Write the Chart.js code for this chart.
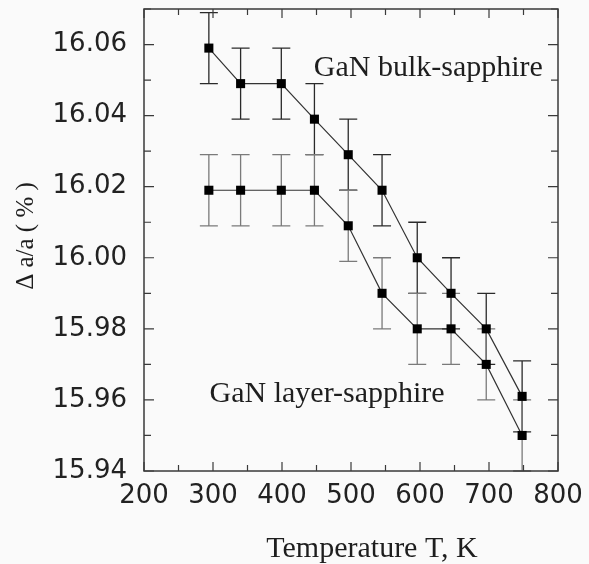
<!DOCTYPE html>
<html>
<head>
<meta charset="utf-8">
<script src="https://cdn.jsdelivr.net/npm/chart.js@4"></script>
<style>
html, body { margin: 0; padding: 0; background: #fafafa; }
</style>
</head>
<body>
<canvas id="chart" width="589" height="564"></canvas>
<script>
// data
const temps = [294, 340, 399, 447, 496, 545, 596, 645, 696, 748];
const bulk = [16.059, 16.049, 16.049, 16.039, 16.029, 16.019, 16.000, 15.990, 15.980, 15.961];
const bulkErr = [0.01, 0.01, 0.01, 0.01, 0.01, 0.01, 0.01, 0.01, 0.01, 0.01];
const layer = [16.019, 16.019, 16.019, 16.019, 16.009, 15.990, 15.980, 15.980, 15.970, 15.950];
const layerErr = [0.01, 0.01, 0.01, 0.01, 0.01, 0.01, 0.01, 0.01, 0.01, 0.01];

const xTicks = [200, 300, 400, 500, 600, 700, 800];
const yTicks = [15.94, 15.96, 15.98, 16.00, 16.02, 16.04, 16.06];

const ctx = document.querySelector('#chart').getContext('2d');

const toPoints = (ys) => temps.map((t, i) => ({ x: t, y: ys[i] }));

// error bars, frame and inward ticks
const extras = {
    id: 'extras',
    beforeDraw(chart) {
        const c = chart.ctx;
        c.save();
        c.fillStyle = '#fafafa';
        c.fillRect(0, 0, chart.width, chart.height);
        c.restore();
    },
    beforeDatasetsDraw(chart) {
        const c = chart.ctx;
        const xs = chart.scales.x, ys = chart.scales.y;
        const sets = [[bulk, bulkErr, '#2a2a2a'], [layer, layerErr, '#7a7a7a']];
        c.save();
        c.lineWidth = 1.3;
        sets.forEach(([vals, errs, col]) => {
            c.strokeStyle = col;
            vals.forEach((v, i) => {
                const px = xs.getPixelForValue(temps[i]);
                const top = ys.getPixelForValue(v + errs[i]);
                const bot = ys.getPixelForValue(v - errs[i]);
                c.beginPath();
                c.moveTo(px, top); c.lineTo(px, bot);
                c.moveTo(px - 9, top); c.lineTo(px + 9, top);
                c.moveTo(px - 9, bot); c.lineTo(px + 9, bot);
                c.stroke();
            });
        });
        c.restore();
    },
    afterDraw(chart) {
        const c = chart.ctx;
        const a = chart.chartArea;
        const xs = chart.scales.x, ys = chart.scales.y;
        c.save();
        c.strokeStyle = '#3a3a3a';
        c.lineWidth = 1.5;
        c.strokeRect(a.left, a.top, a.right - a.left, a.bottom - a.top);
        c.lineWidth = 1.2;
        c.beginPath();
        for (let v = 200; v <= 800; v += 50) {
            const px = xs.getPixelForValue(v);
            const len = v % 100 === 0 ? 9 : 6;
            c.moveTo(px, a.bottom); c.lineTo(px, a.bottom - len);
            c.moveTo(px, a.top); c.lineTo(px, a.top + len);
        }
        for (let k = 0; k <= 13; k++) {
            const v = 15.94 + k * 0.01;
            const py = ys.getPixelForValue(v);
            const len = k % 2 === 0 ? 10 : 7;
            c.moveTo(a.left, py); c.lineTo(a.left + len, py);
            c.moveTo(a.right, py); c.lineTo(a.right - len, py);
        }
        c.stroke();

        // labels
        c.fillStyle = '#1e1e1e';
        c.font = '30px "Liberation Serif"';
        c.textBaseline = 'middle';
        c.textAlign = 'left';
        c.fillText('GaN bulk-sapphire', xs.getPixelForValue(446), ys.getPixelForValue(16.0535));
        c.fillText('GaN layer-sapphire', xs.getPixelForValue(295), ys.getPixelForValue(15.9615));

        c.textAlign = 'center';
        c.font = '30px "Liberation Serif"';
        c.fillText('Temperature T, K', 372, 549);

        c.translate(26, 236);
        c.rotate(-Math.PI / 2);
        c.font = '25px "Liberation Serif"';
        c.fillText('\u0394 a/a ( % )', 0, 0);
        c.restore();
    }
};

new Chart(ctx, {
    type: 'scatter',
    data: {
        datasets: [
            {
                label: 'GaN bulk-sapphire',
                data: toPoints(bulk),
                showLine: true,
                borderColor: '#333',
                borderWidth: 1.2,
                backgroundColor: '#000',
                pointStyle: 'rect',
                pointRadius: 6.4,
                pointBorderWidth: 0
            },
            {
                label: 'GaN layer-sapphire',
                data: toPoints(layer),
                showLine: true,
                borderColor: '#333',
                borderWidth: 1.2,
                backgroundColor: '#000',
                pointStyle: 'rect',
                pointRadius: 6.4,
                pointBorderWidth: 0
            }
        ]
    },
    options: {
        responsive: false,
        animation: false,
        devicePixelRatio: 1,
        layout: { padding: { top: 9, right: 31, left: 0, bottom: 0 } },
        plugins: {
            legend: { display: false },
            tooltip: { enabled: false }
        },
        scales: {
            x: {
                type: 'linear',
                min: 200,
                max: 800,
                grid: { display: false, drawTicks: false },
                border: { display: false },
                afterBuildTicks: (s) => { s.ticks = xTicks.map(v => ({ value: v })); },
                afterFit: (s) => {
                    s.height = 93;
                    s.paddingLeft = 0;
                    s.paddingRight = 0;
                },
                ticks: {
                    color: '#222',
                    padding: 10,
                    maxRotation: 0,
                    font: { family: 'DejaVu Sans', size: 26 }
                }
            },
            y: {
                type: 'linear',
                min: 15.94,
                max: 16.07,
                grid: { display: false, drawTicks: false },
                border: { display: false },
                afterBuildTicks: (s) => { s.ticks = yTicks.map(v => ({ value: v })); },
                afterFit: (s) => {
                    s.width = 144;
                    s.paddingTop = 0;
                    s.paddingBottom = 0;
                },
                ticks: {
                    color: '#222',
                    padding: 17,
                    font: { family: 'DejaVu Sans', size: 26 },
                    callback: (v) => v.toFixed(2)
                }
            }
        }
    },
    plugins: [extras]
});
</script>
</body>
</html>
